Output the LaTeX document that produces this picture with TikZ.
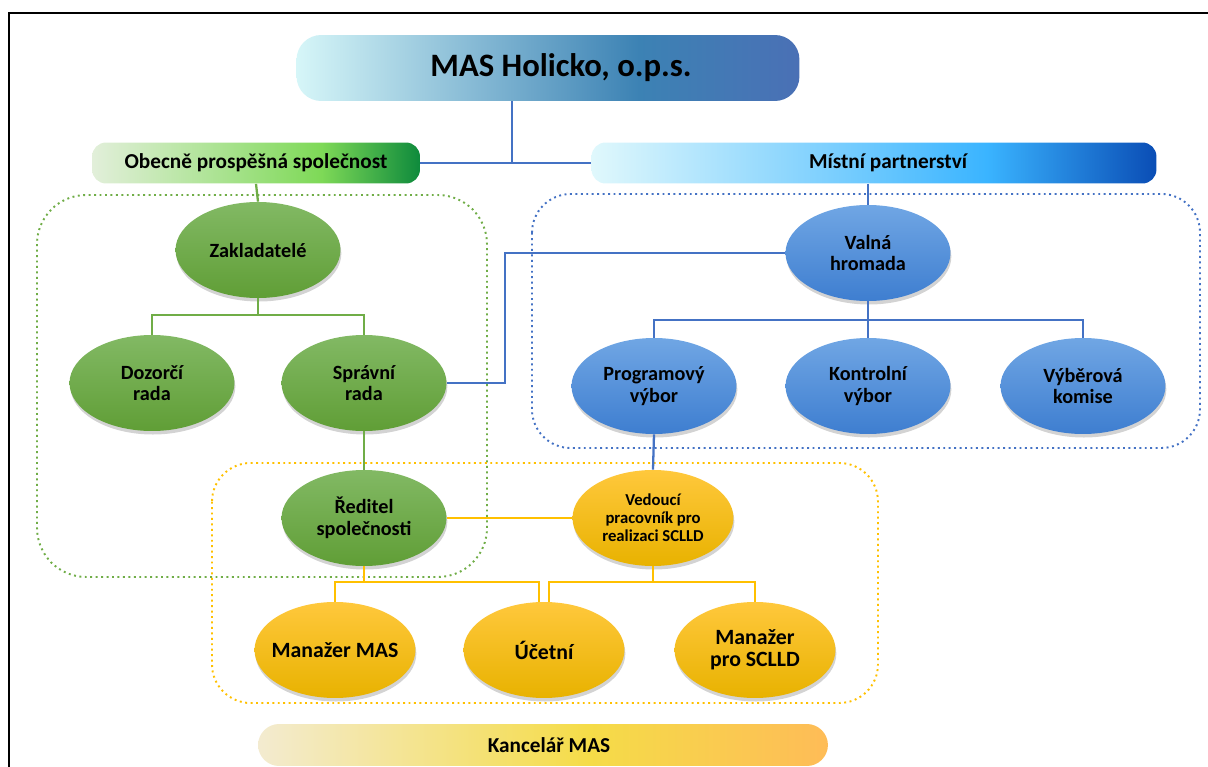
\documentclass[tikz,border=0pt]{standalone}
\usepackage{fontspec}
\setmainfont{Carlito}
\usetikzlibrary{shapes.geometric,shadows}
\definecolor{G}{RGB}{112,173,71}
\definecolor{B}{RGB}{68,114,196}
\definecolor{Y}{RGB}{255,192,0}
\definecolor{Gtop}{RGB}{130,185,100}
\definecolor{Gbot}{RGB}{96,158,54}
\definecolor{Btop}{RGB}{112,166,228}
\definecolor{Bbot}{RGB}{62,126,208}
\definecolor{Ytop}{RGB}{255,200,60}
\definecolor{Ybot}{RGB}{232,178,0}
% banner gradients (path box = 25bp..75bp)
\pgfdeclarehorizontalshading{topband}{100bp}{color(0bp)=(rgb,255:red,214;green,246;blue,248); color(25bp)=(rgb,255:red,214;green,246;blue,248); color(59bp)=(rgb,255:red,60;green,130;blue,180); color(75bp)=(rgb,255:red,74;green,112;blue,181); color(100bp)=(rgb,255:red,74;green,112;blue,181)}
\pgfdeclarehorizontalshading{opsband}{100bp}{color(0bp)=(rgb,255:red,226;green,239;blue,218); color(25bp)=(rgb,255:red,226;green,239;blue,218); color(60bp)=(rgb,255:red,126;green,217;blue,87); color(75bp)=(rgb,255:red,14;green,138;blue,60); color(100bp)=(rgb,255:red,14;green,138;blue,60)}
\pgfdeclarehorizontalshading{mpband}{100bp}{color(0bp)=(rgb,255:red,224;green,248;blue,252); color(25bp)=(rgb,255:red,224;green,248;blue,252); color(60bp)=(rgb,255:red,58;green,180;blue,255); color(75bp)=(rgb,255:red,10;green,77;blue,181); color(100bp)=(rgb,255:red,10;green,77;blue,181)}
\pgfdeclarehorizontalshading{kancband}{100bp}{color(0bp)=(rgb,255:red,243;green,235;blue,208); color(25bp)=(rgb,255:red,243;green,235;blue,208); color(54bp)=(rgb,255:red,245;green,220;blue,72); color(75bp)=(rgb,255:red,254;green,188;blue,87); color(100bp)=(rgb,255:red,254;green,188;blue,87)}
\newcommand{\drawbox}[5]{\draw[#1, dotted, line width=1.1pt, rounded corners=#5] (#2) rectangle (#3,#4);}

\begin{document}
\begin{tikzpicture}[x=0.02cm, y=-0.02cm, font=\bfseries,
  oval/.style={ellipse, minimum width=3.3cm, minimum height=1.92cm, inner sep=0pt, align=center,
    font=\bfseries\fontsize{11.5}{12.3}\selectfont, drop shadow={opacity=0.35, shadow xshift=0.5pt, shadow yshift=-2pt}},
  goval/.style={oval, top color=Gtop, bottom color=Gbot},
  boval/.style={oval, top color=Btop, bottom color=Bbot},
  yoval/.style={oval, top color=Ytop, bottom color=Ybot, minimum width=3.22cm, inner xsep=-4pt, font=\bfseries\fontsize{12.4}{12.6}\selectfont},
  band/.style={rounded corners=8pt, inner sep=0pt, font=\bfseries\fontsize{12.1}{14}\selectfont},
  gl/.style={G, line width=1.3pt},
  bl/.style={B, line width=1.3pt},
  yl/.style={Y, line width=1.3pt}]
\useasboundingbox (0,0) rectangle (1208,767);
\draw[line width=1.3pt] (9,767)--(9,13)--(1208,13);

% containers
\drawbox{G}{37,195}{487}{577}{28pt}
\drawbox{B}{532,194}{1200}{448}{22pt}
\drawbox{Y}{212,463}{878}{703}{22pt}

% banners
\node[band, shading=topband, rounded corners=14pt, minimum width=10.06cm, minimum height=1.32cm,
  font=\bfseries\fontsize{18.6}{20}\selectfont] (mas) at (548,68) {\hspace*{0.52cm}MAS Holicko, o.p.s.};
\node[band, shading=opsband, minimum width=6.56cm, minimum height=0.82cm] (ops) at (256,163) {Obecně prospěšná společnost};
\node[band, shading=mpband, minimum width=11.3cm, minimum height=0.82cm] (mp) at (874,163) {\hspace*{0.56cm}Místní partnerství};
\node[band, shading=kancband, rounded corners=12pt, minimum width=11.4cm, minimum height=0.84cm] (kanc) at (543,745) {\hspace*{0.24cm}Kancelář MAS};

% ovals
\node[goval] (zakl) at (258,250) {Zakladatelé};
\node[goval] (dozor) at (152,383) {Dozorčí\\rada};
\node[goval] (sprav) at (364,383) {Správní\\rada};
\node[goval] (red) at (364,518) {Ředitel\\společnosti};
\node[boval] (valna) at (868,253) {Valná\\hromada};
\node[boval] (prog) at (654,386) {Programový\\výbor};
\node[boval] (kontr) at (868,386) {Kontrolní\\výbor};
\node[boval] (vyber) at (1083,386) {Výběrová\\komise};
\node[yoval, font=\bfseries\fontsize{9.5}{10.2}\selectfont] (ved) at (653,518) {Vedoucí\\pracovník pro\\realizaci SCLLD};
\node[yoval] (manmas) at (335,650) {Manažer MAS};
\node[yoval] (ucet) at (544,650) {Účetní};
\node[yoval] (manscl) at (755,650) {Manažer\\pro SCLLD};

% connectors
\coordinate (top) at (512,163);
\coordinate (zs) at (258,315);
\coordinate (vs) at (868,320);
\coordinate (vj) at (505,253);
\coordinate (rs) at (364,582);
\coordinate (ws) at (653,582);
\draw[bl] (top |- mas.south) -- (top);
\draw[bl] (ops.east) -- (mp.west);
\draw[gl] (ops.south) -- (zakl.north);
\draw[gl] (zakl.south) -- (zs) -| (dozor.north);
\draw[gl] (zs) -| (sprav.north);
\draw[gl] (sprav.south) -- (red.north);
\draw[bl] (mp.south -| valna.north) -- (valna.north);
\draw[bl] (valna.west) -- (vj) |- (sprav.east);
\draw[bl] (valna.south) -- (vs) -| (prog.north);
\draw[bl] (vs) -| (vyber.north);
\draw[bl] (vs) -- (kontr.north);
\draw[bl] (prog.south) -- (ved.north);
\draw[yl] (red.east) -- (ved.west);
\draw[yl] (red.south) -- (rs) -| (manmas.north);
\draw[yl] (rs) -| ([xshift=-3pt]ucet.north);
\draw[yl] (ved.south) -- (ws) -| ([xshift=3pt]ucet.north);
\draw[yl] (ws) -| (manscl.north);
\end{tikzpicture}
\end{document}
